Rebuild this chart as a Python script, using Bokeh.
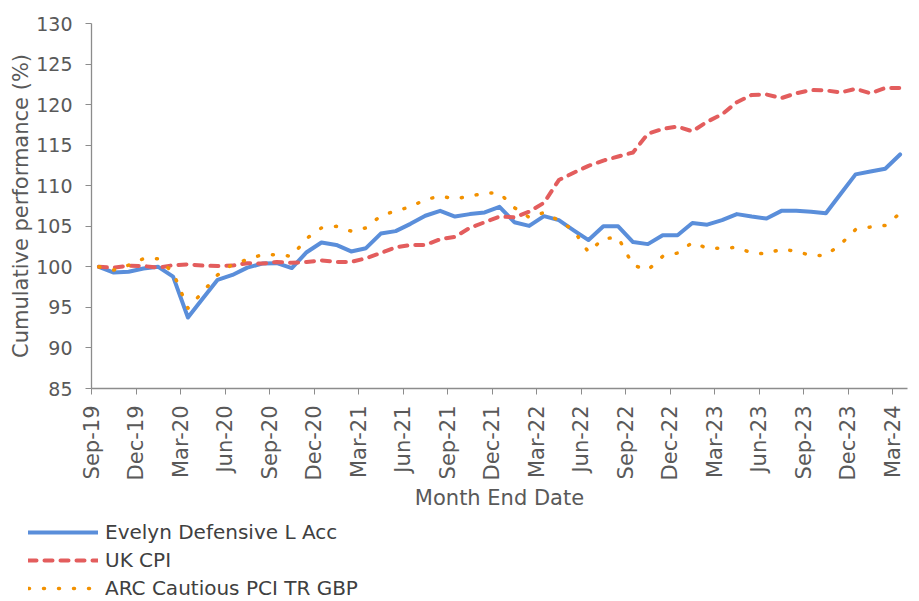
import math
from bokeh.plotting import figure
from bokeh.models import Range1d, FixedTicker, Legend, LegendItem, ColumnDataSource
from bokeh.embed import file_html
from bokeh.resources import INLINE

# ---- data (monthly, Sep-19 .. Mar-24) ----
evelyn = [100.0, 99.3, 99.4, 99.8, 100.0, 98.8, 93.75, 96.1, 98.4, 99.0,
          99.9, 100.4, 100.45, 99.85, 101.8, 103.0, 102.7, 101.9, 102.3, 104.1,
          104.4, 105.3, 106.3, 106.9, 106.2, 106.5, 106.7, 107.4, 105.5, 105.05,
          106.25, 105.75, 104.5, 103.3, 105.0, 105.0, 103.05, 102.8, 103.9, 103.9,
          105.4, 105.2, 105.75, 106.5, 106.2, 105.95, 106.9, 106.9, 106.8, 106.6,
          109.0, 111.4, 111.75, 112.1, 113.85]
uk_cpi = [100.0, 99.9, 100.15, 100.1, 99.9, 100.2, 100.3, 100.15, 100.1, 100.15,
          100.45, 100.4, 100.6, 100.5, 100.6, 100.8, 100.6, 100.6, 101.05, 101.7,
          102.4, 102.7, 102.7, 103.4, 103.7, 104.8, 105.5, 106.2, 106.1, 106.8,
          107.9, 110.7, 111.6, 112.45, 113.1, 113.6, 114.1, 116.4, 117.0, 117.3,
          116.7, 117.9, 118.8, 120.3, 121.2, 121.25, 120.8, 121.4, 121.8, 121.75,
          121.5, 121.95, 121.4, 122.05, 122.05]
arc = [100.0, 99.6, 100.2, 101.0, 101.0, 99.3, 94.9, 96.9, 99.0, 100.3,
       100.9, 101.5, 101.5, 101.3, 103.5, 104.8, 105.0, 104.4, 104.8, 106.3,
       106.9, 107.4, 108.3, 108.7, 108.4, 108.7, 109.1, 109.1, 107.3, 106.1,
       106.7, 105.7, 104.5, 101.8, 103.5, 103.6, 100.2, 99.6, 101.3, 101.7,
       103.0, 102.3, 102.3, 102.4, 101.7, 101.6, 102.2, 101.9, 101.4, 101.4,
       102.8, 104.6, 104.9, 105.1, 106.6]
tick_labels = ["Sep-19", "Dec-19", "Mar-20", "Jun-20", "Sep-20", "Dec-20",
               "Mar-21", "Jun-21", "Sep-21", "Dec-21", "Mar-22", "Jun-22",
               "Sep-22", "Dec-22", "Mar-23", "Jun-23", "Sep-23", "Dec-23", "Mar-24"]
y_ticks = [85, 90, 95, 100, 105, 110, 115, 120, 125, 130]
series_names = ["Evelyn Defensive L Acc", "UK CPI", "ARC Cautious PCI TR GBP"]
series_cols = ["evelyn", "cpi", "arc"]

n = len(evelyn)
xs = [i + 0.5 for i in range(n)]  # each month centred between tick marks
src = ColumnDataSource(dict(x=xs, evelyn=evelyn, cpi=uk_cpi, arc=arc))

FONT = "DejaVu Sans"
TXT = "#595959"
AXC = "#8c8c8c"

STYLES = [
    dict(line_color="#5A8EDA", line_width=4, line_join="round", line_cap="round"),
    dict(line_color="#E35D5D", line_width=4, line_dash="8 8", line_cap="round", line_join="round"),
    dict(line_color="#F29100", line_width=3.5, line_dash="1 14", line_cap="round", line_join="round"),
]

p = figure(width=915, height=513, output_backend="svg", toolbar_location=None,
           x_range=Range1d(0, n), y_range=Range1d(85, 130),
           min_border_left=91, min_border_right=8, min_border_top=23,
           min_border_bottom=125)
p.outline_line_color = None
p.xgrid.visible = False
p.ygrid.visible = False

for col, st in zip(series_cols, STYLES):
    p.line("x", col, source=src, **st)

# x axis
xa = p.xaxis[0]
xa.ticker = FixedTicker(ticks=[3 * k for k in range(len(tick_labels))])
xa.major_label_overrides = {3 * k: lab for k, lab in enumerate(tick_labels)}
xa.major_label_orientation = math.pi / 2
xa.minor_tick_line_color = None
xa.major_tick_in = 0
xa.major_tick_out = 6
xa.major_label_standoff = 11
xa.axis_line_color = AXC
xa.major_tick_line_color = AXC
xa.axis_line_width = 1.3
xa.major_label_text_font = FONT
xa.major_label_text_font_size = "21px"
xa.major_label_text_color = TXT
xa.axis_label = "Month End Date"
xa.axis_label_text_font = FONT
xa.axis_label_text_font_size = "21px"
xa.axis_label_text_font_style = "normal"
xa.axis_label_text_color = TXT
xa.axis_label_standoff = 3

# y axis
ya = p.yaxis[0]
ya.ticker = FixedTicker(ticks=y_ticks)
ya.minor_tick_line_color = None
ya.major_tick_in = 0
ya.major_tick_out = 6
ya.major_label_standoff = 13
ya.axis_line_color = AXC
ya.major_tick_line_color = AXC
ya.axis_line_width = 1.3
ya.major_label_text_font = FONT
ya.major_label_text_font_size = "19px"
ya.major_label_text_color = TXT
ya.axis_label = "Cumulative performance (%)"
ya.axis_label_text_font = FONT
ya.axis_label_text_font_size = "21px"
ya.axis_label_text_font_style = "normal"
ya.axis_label_text_color = TXT
ya.axis_label_standoff = 0

# legend strip below the chart: same series, drawn outside this strip's view
lf = figure(width=915, height=87, output_backend="svg", toolbar_location=None,
            x_range=Range1d(0, 1), y_range=Range1d(0, 1),
            x_axis_location=None, y_axis_location=None,
            min_border_left=0, min_border_right=0, min_border_top=0,
            min_border_bottom=0)
lf.outline_line_color = None
lf.xgrid.visible = False
lf.ygrid.visible = False
key_renderers = [lf.line("x", col, source=src, **st) for col, st in zip(series_cols, STYLES)]

legend = Legend(items=[LegendItem(label=name, renderers=[r])
                       for name, r in zip(series_names, key_renderers)],
                location=(28, 0))
legend.padding = 0
legend.margin = 0
legend.spacing = 4
legend.glyph_width = 70
legend.glyph_height = 20
legend.label_height = 20
legend.label_standoff = 7
legend.label_text_font = FONT
legend.label_text_font_size = "20px"
legend.label_text_color = "#404040"
legend.border_line_color = None
legend.background_fill_alpha = 0
lf.add_layout(legend)

open("out.html", "w").write(file_html((p, lf), INLINE))
